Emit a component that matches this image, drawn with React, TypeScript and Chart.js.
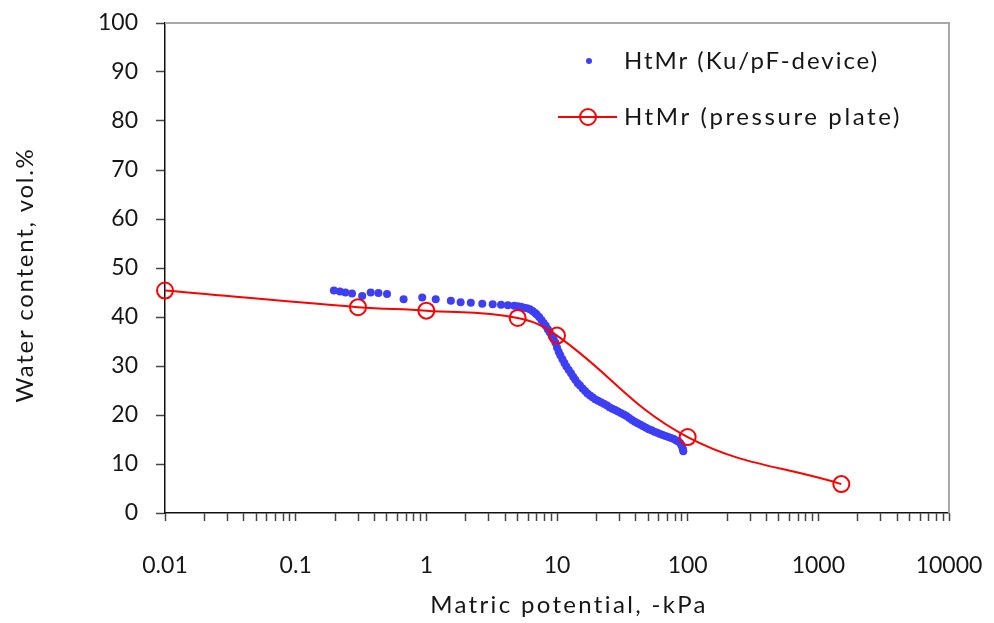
import React, { useEffect, useRef } from "react";
import { Chart, registerables } from "chart.js";

Chart.register(...registerables);

// ---- data ----
const seriesNames = ["HtMr (Ku/pF-device)", "HtMr (pressure plate)"];
const xTitle = "Matric potential, -kPa";
const yTitle = "Water content, vol.%";

// Ku/pF-device measurements (kPa, vol.%)
const deviceKPa = [
  0.196, 0.218, 0.24, 0.27, 0.323, 0.375, 0.43, 0.5, 0.67, 0.93, 1.18, 1.54, 1.83,
  2.19, 2.68, 3.22, 3.73, 4.21, 4.7, 5.0, 5.3, 5.6, 5.9, 6.2, 6.5, 6.8, 7.0, 7.3,
  7.6, 7.9, 8.2, 8.5, 8.8, 9.1, 9.4, 9.7, 10.0, 10.3, 10.6, 11.0, 11.4, 11.8, 12.3,
  12.8, 13.3, 13.8, 14.4, 15.0, 15.7, 16.4, 17.1, 17.9, 18.7, 19.6, 20.6, 21.7, 22.8,
  24.0, 25.2, 26.5, 27.9, 29.3, 30.8, 32.4, 34.0, 35.7, 37.5, 39.4, 41.4, 43.5, 45.7,
  48.0, 50.4, 53.0, 55.7, 58.5, 61.4, 64.5, 67.7, 71.2, 74.7, 78.3, 81.8, 85.0, 87.5,
  89.5, 91.0, 92.0, 92.6,
];
const deviceWC = [
  45.4, 45.2, 45.0, 44.8, 44.3, 45.0, 44.9, 44.7, 43.6, 44.0, 43.6, 43.3, 43.0,
  42.9, 42.7, 42.6, 42.5, 42.4, 42.3, 42.2, 42.1, 41.9, 41.8, 41.6, 41.2, 40.8, 40.5, 40.0,
  39.4, 38.8, 38.2, 37.5, 36.9, 36.2, 35.6, 34.8, 33.8, 32.9, 32.2, 31.4, 30.6, 29.9, 29.2,
  28.5, 27.8, 27.2, 26.5, 26.0, 25.4, 24.9, 24.4, 24.0, 23.6, 23.2, 22.9, 22.6, 22.3,
  22.0, 21.6, 21.3, 21.0, 20.7, 20.4, 20.1, 19.8, 19.4, 19.0, 18.6, 18.3, 18.0, 17.7,
  17.4, 17.1, 16.9, 16.6, 16.4, 16.1, 15.9, 15.7, 15.5, 15.3, 15.1, 14.8, 14.6, 14.3,
  13.9, 13.4, 13.0, 12.6,
];

// Pressure plate measurements
const plateKPa = [0.01, 0.3, 1, 5, 10, 100, 1500];
const plateWC = [45.4, 42.0, 41.3, 39.8, 36.2, 15.5, 5.9];

// axes
const xDecades = [0.01, 0.1, 1, 10, 100, 1000];
const xMultipliers = [1, 2, 3, 4, 5, 6, 7, 8, 9];
const xMajorTicks = [0.01, 0.1, 1, 10, 100, 1000, 10000];
const xTickLabels = ["0.01", "0.1", "1", "10", "100", "1000", "10000"];
const xMin = 0.01;
const xMax = 10000;
const yMin = 0;
const yMax = 100;
const yStep = 5;
const yLabelStep = 10;

const FONT = "Lato, 'Open Sans', sans-serif";
const BLUE = "rgb(62, 62, 245)";
const RED = "#ff0000";
const TEXT = "#161616";

function drawSpaced(ctx: CanvasRenderingContext2D, text: string, x: number, y: number, target: number) {
  const c: any = ctx;
  if ("letterSpacing" in c) {
    c.letterSpacing = "0px";
    const w = ctx.measureText(text).width;
    const ls = Math.max(0, (target - w) / text.length);
    c.letterSpacing = ls.toFixed(2) + "px";
  }
  ctx.fillText(text, x, y);
  if ("letterSpacing" in c) c.letterSpacing = "0px";
}

const framePlugin = {
  id: "frameAndLegend",
  beforeDatasetsDraw(chart: any) {
    const { ctx, chartArea } = chart;
    const { left, right, top, bottom } = chartArea;
    ctx.save();
    ctx.strokeStyle = "#a8a8a8";
    ctx.lineWidth = 2;
    ctx.beginPath();
    ctx.moveTo(left, top);
    ctx.lineTo(right, top);
    ctx.lineTo(right, bottom);
    ctx.stroke();
    ctx.restore();
  },
  afterDraw(chart: any) {
    const { ctx, chartArea } = chart;
    const { left, right, top, bottom } = chartArea;
    const lx = right - 391;
    const y1 = top + 38;
    const y2 = top + 94;
    ctx.save();
    // blue marker
    ctx.fillStyle = BLUE;
    ctx.beginPath();
    ctx.arc(lx + 31, y1, 3, 0, Math.PI * 2);
    ctx.fill();
    // red line + circle
    ctx.strokeStyle = RED;
    ctx.lineWidth = 2;
    ctx.beginPath();
    ctx.moveTo(lx, y2);
    ctx.lineTo(lx + 59, y2);
    ctx.stroke();
    ctx.beginPath();
    ctx.arc(lx + 30, y2, 8, 0, Math.PI * 2);
    ctx.stroke();
    // legend text
    ctx.fillStyle = TEXT;
    ctx.font = `24px ${FONT}`;
    ctx.textBaseline = "alphabetic";
    ctx.textAlign = "left";
    drawSpaced(ctx, seriesNames[0], lx + 66, y1 + 8, 255);
    drawSpaced(ctx, seriesNames[1], lx + 66, y2 + 8, 278);
    // x title
    ctx.textAlign = "center";
    drawSpaced(ctx, xTitle, (left + right) / 2 + 12, bottom + 100, 278);
    // y title
    ctx.translate(33, (top + bottom) / 2 + 7);
    ctx.rotate(-Math.PI / 2);
    drawSpaced(ctx, yTitle, 0, 0, 255);
    ctx.restore();
  },
};

export default function App() {
  const canvasRef = useRef<HTMLCanvasElement | null>(null);

  useEffect(() => {
    const canvas = canvasRef.current;
    if (!canvas) return;

    const xTicks: number[] = [];
    xDecades.forEach((d) => xMultipliers.forEach((m) => xTicks.push(+(d * m).toPrecision(6))));
    xTicks.push(xMax);

    const chart = new Chart(canvas, {
      type: "scatter",
      data: {
        datasets: [
          {
            label: seriesNames[1],
            data: plateKPa.map((x, i) => ({ x, y: plateWC[i] })),
            showLine: true,
            borderColor: RED,
            borderWidth: 2,
            tension: 0.4,
            pointRadius: 8,
            pointHoverRadius: 8,
            pointBorderWidth: 2,
            pointBorderColor: RED,
            pointBackgroundColor: "rgba(0,0,0,0)",
            clip: false,
            order: 0,
          } as any,
          {
            label: seriesNames[0],
            data: deviceKPa.map((x, i) => ({ x, y: deviceWC[i] })),
            showLine: false,
            pointRadius: 4,
            pointHoverRadius: 4,
            pointBorderWidth: 0,
            pointBackgroundColor: BLUE,
            backgroundColor: BLUE,
            order: 1,
          } as any,
        ],
      },
      options: {
        animation: false,
        responsive: false,
        devicePixelRatio: 1,
        events: [],
        layout: { autoPadding: false, padding: { left: 0, right: 45, top: 23, bottom: 0 } },
        plugins: {
          legend: { display: false },
          tooltip: { enabled: false },
        },
        scales: {
          x: {
            type: "logarithmic",
            min: xMin,
            max: xMax,
            afterBuildTicks: (scale: any) => {
              scale.ticks = xTicks.map((v) => ({ value: v }));
            },
            afterFit: (scale: any) => {
              scale.height = 110;
              scale.paddingLeft = 0;
              scale.paddingRight = 0;
            },
            ticks: {
              autoSkip: false,
              maxRotation: 0,
              minRotation: 0,
              padding: 31,
              color: TEXT,
              font: { family: FONT, size: 23 },
              callback: (value: any) => {
                const idx = xMajorTicks.findIndex((m) => Math.abs(m - value) / m < 1e-6);
                return idx >= 0 ? xTickLabels[idx] : "";
              },
            },
            grid: {
              drawOnChartArea: false,
              drawTicks: true,
              tickLength: 8,
              tickColor: "#444",
              tickWidth: 1.5,
            },
            border: { display: true, color: "#111", width: 1.5 },
            title: { display: false },
          },
          y: {
            type: "linear",
            min: yMin,
            max: yMax,
            afterFit: (scale: any) => {
              scale.width = 165;
              scale.paddingTop = 0;
              scale.paddingBottom = 0;
            },
            ticks: {
              stepSize: yStep,
              padding: 18,
              color: TEXT,
              font: { family: FONT, size: 23 },
              callback: (value: any) => (value % yLabelStep === 0 ? String(value) : ""),
            },
            grid: {
              drawOnChartArea: false,
              drawTicks: true,
              tickLength: 9,
              tickColor: "#444",
              tickWidth: 1.5,
            },
            border: { display: true, color: "#111", width: 1.5 },
            title: { display: false },
          },
        },
      },
      plugins: [framePlugin],
    });

    return () => chart.destroy();
  }, []);

  return (
    <div style={{ position: "fixed", left: 0, top: 0, width: 994, height: 623, background: "#fff" }}>
      <canvas ref={canvasRef} width={994} height={623} style={{ display: "block" }} />
    </div>
  );
}
